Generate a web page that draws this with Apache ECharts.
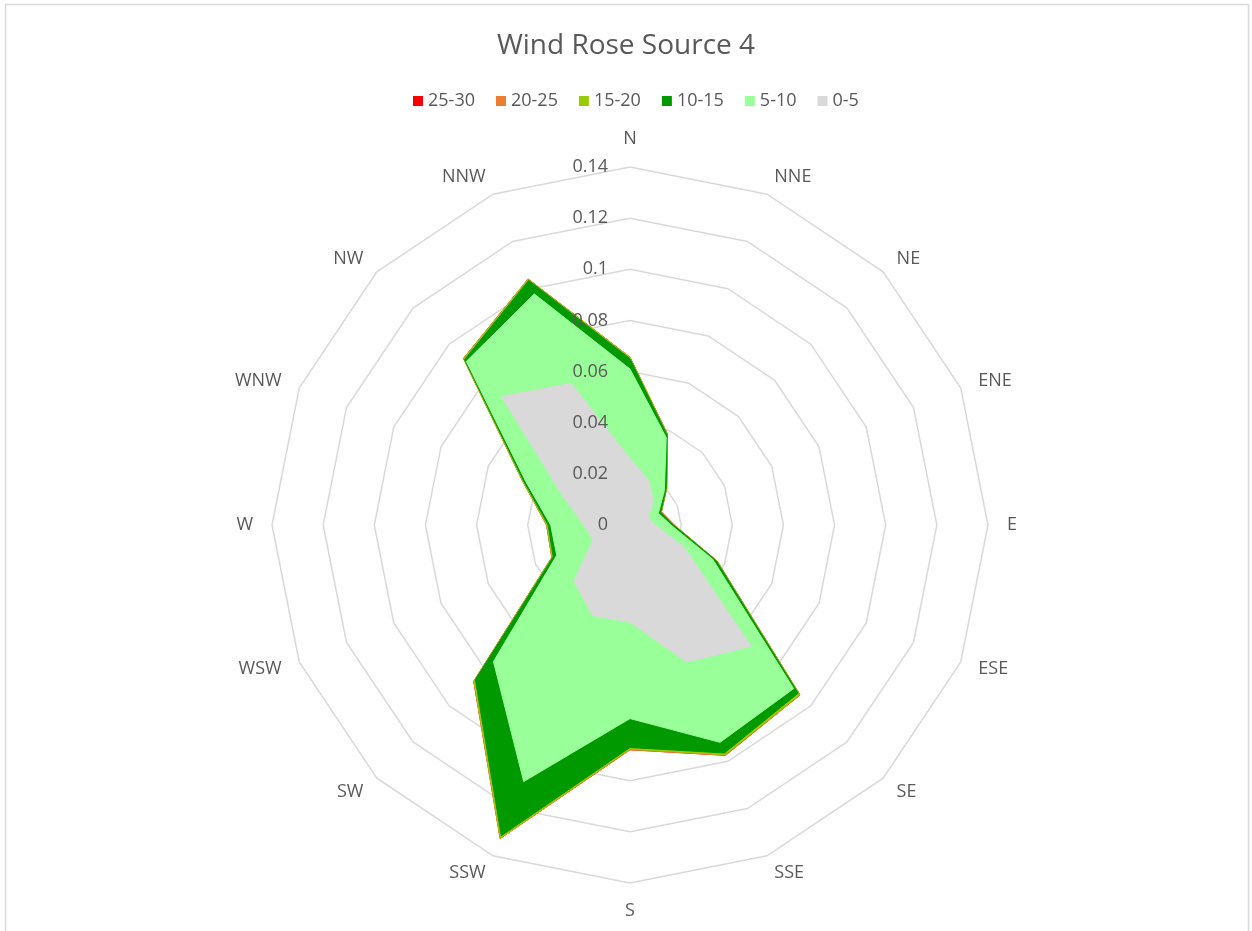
<!DOCTYPE html>
<html lang="en">
<head>
    <meta charset="UTF-8">
    <title>Wind Rose Source 4</title>
    <style>
        body{ margin: 0; background: #fff; }
        #main{ width: 1252px; height: 931px; }
    </style>
</head>
<body>
    <div id="main"></div>
    <script src="https://cdn.jsdelivr.net/npm/echarts@6/dist/echarts.min.js"></script>
    <script>
        // directions, clockwise from north
        var directions = ['N', 'NNE', 'NE', 'ENE', 'E', 'ESE', 'SE', 'SSE', 'S', 'SSW', 'SW', 'WSW', 'W', 'WNW', 'NW', 'NNW'];
        var bands = ['25-30', '20-25', '15-20', '10-15', '5-10', '0-5'];
        var bandColors = ['#ff0000', '#ed7d31', '#99cc00', '#009900', '#99ff99', '#d9d9d9'];
        var tickLabels = ['0', '0.02', '0.04', '0.06', '0.08', '0.1', '0.12', '0.14'];

        // cumulative frequency up to the top of each speed band
        var upTo5  = [0.026, 0.019, 0.013, 0.0077, 0.010, 0.023, 0.067, 0.058, 0.038, 0.0383, 0.031, 0.0157, 0.018, 0.028, 0.071, 0.060];
        var upTo10 = [0.061, 0.037, 0.019, 0.012, 0.016, 0.035, 0.0905, 0.092, 0.0757, 0.1086, 0.0755, 0.031, 0.031, 0.044, 0.0905, 0.0978];
        var upTo15 = [0.065, 0.038, 0.020, 0.013, 0.017, 0.0365, 0.093, 0.0965, 0.087, 0.1315, 0.0855, 0.0325, 0.032, 0.045, 0.0915, 0.1035];
        var upTo20 = [0.0655, 0.0383, 0.0202, 0.0132, 0.0172, 0.0368, 0.0938, 0.0972, 0.0876, 0.1325, 0.0862, 0.033, 0.0325, 0.0455, 0.092, 0.104];
        var upTo25 = [0.0656, 0.0384, 0.0203, 0.0133, 0.0173, 0.0369, 0.0940, 0.0975, 0.0879, 0.1327, 0.0864, 0.0331, 0.0326, 0.0456, 0.0921, 0.1041];
        var upTo30 = [0.0656, 0.0384, 0.0203, 0.0133, 0.0173, 0.0369, 0.0940, 0.0975, 0.0879, 0.1327, 0.0864, 0.0331, 0.0326, 0.0456, 0.0921, 0.1041];

        var bandValues = [upTo30, upTo25, upTo20, upTo15, upTo10, upTo5];
        var maxVal = 0.14;
        var font = 'Open Sans';
        var grey = '#595959';

        // echarts radar goes counter-clockwise, so walk the compass backwards
        var order = [0];
        for (var i = directions.length - 1; i > 0; i--) order.push(i);

        var myChart = echarts.init(document.getElementById('main'));

        var baseRadar = {
            center: [630, 525],
            radius: 358,
            startAngle: 90,
            splitNumber: tickLabels.length - 1,
            shape: 'polygon',
            axisLine: { show: false },
            axisTick: { show: false },
            splitArea: { show: false }
        };

        var gridRadar = Object.assign({}, baseRadar, {
            indicator: order.map(function (i) {
                return { name: directions[i], min: 0, max: maxVal };
            }),
            nameGap: 19,
            axisName: { color: grey, fontSize: 18, fontFamily: font },
            splitLine: { lineStyle: { color: '#d9d9d9', width: 1.5 } },
            axisLabel: { show: false }
        });

        // second radar only carries the value labels, drawn above the areas
        var labelRadar = Object.assign({}, baseRadar, {
            z: 10,
            indicator: order.map(function (i, k) {
                var ind = { name: '', min: 0, max: maxVal };
                if (k === 0) {
                    ind.axisLabel = {
                        show: true, color: grey, fontSize: 18, fontFamily: font, margin: 22,
                        formatter: function (v) {
                            return tickLabels[Math.round(v / (maxVal / (tickLabels.length - 1)))];
                        }
                    };
                }
                return ind;
            }),
            axisName: { show: false },
            splitLine: { show: false },
            axisLabel: { show: false }
        });

        var series = bands.map(function (b, k) {
            return {
                name: b,
                type: 'radar',
                radarIndex: 0,
                symbol: 'none',
                silent: true,
                z: 2 + k,
                itemStyle: { color: bandColors[k] },
                lineStyle: { color: bandColors[k], width: 1 },
                areaStyle: { color: bandColors[k], opacity: 1 },
                data: [{ name: b, value: order.map(function (i) { return bandValues[k][i]; }) }]
            };
        });

        var option = {
            animation: false,
            backgroundColor: '#fff',
            title: {
                text: 'Wind Rose Source 4',
                left: 'center',
                top: 27,
                textStyle: { color: grey, fontSize: 28, fontWeight: 'normal', fontFamily: font }
            },
            legend: {
                data: bands,
                top: 87,
                left: 408,
                icon: 'rect',
                itemWidth: 10,
                itemHeight: 10,
                itemGap: 21,
                textStyle: { color: grey, fontSize: 18, fontFamily: font }
            },
            graphic: [{
                type: 'rect',
                silent: true,
                shape: { x: 5.5, y: 4.5, width: 1243, height: 940 },
                style: { fill: 'none', stroke: '#d9d9d9', lineWidth: 1.5 }
            }],
            radar: [gridRadar, labelRadar],
            series: series
        };

        myChart.setOption(option);
    </script>
</body>
</html>
